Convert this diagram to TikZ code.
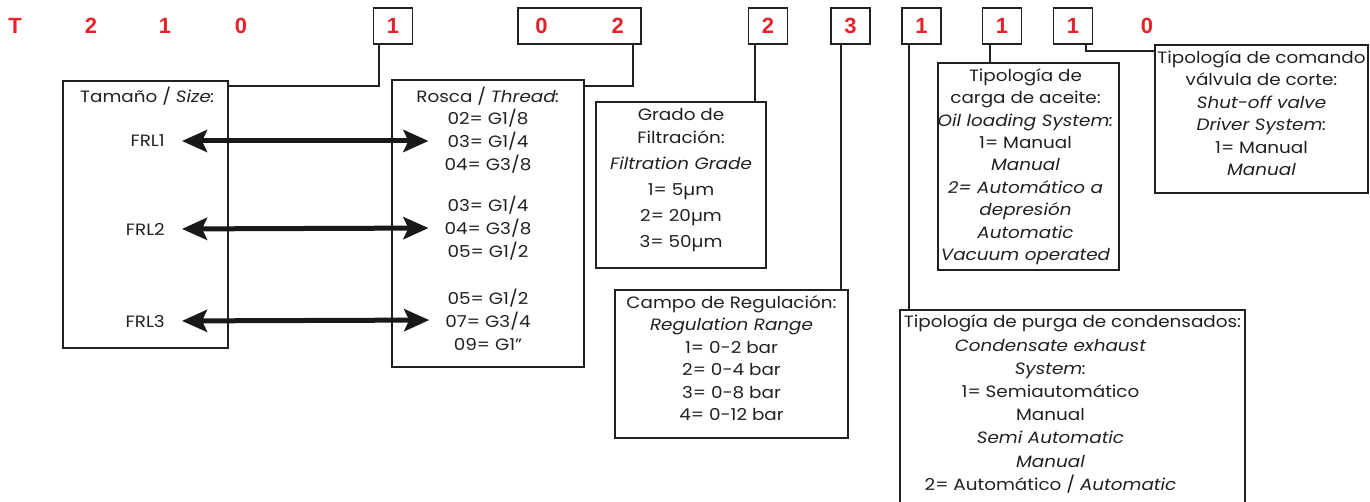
\documentclass[tikz,border=0pt]{standalone}
\usepackage{fontspec}
\setmainfont{Poppins}[FakeStretch=1.12]
\newfontfamily\digitfont{Liberation Sans}
\usepackage{xcolor}
\definecolor{codeRed}  {HTML}{E8202A}
\definecolor{inkGray}  {HTML}{231F20}
\usetikzlibrary{arrows.meta, positioning}
\tikzset{
    digit/.style={font=\digitfont\bfseries\fontsize{22}{22}\selectfont,
                  text=codeRed, inner sep=0pt},
    codebox/.style={digit, draw=inkGray, line width=1.6pt,
                    minimum width=39pt, minimum height=36pt},
    infobox/.style={draw=inkGray, line width=1.6pt},
    infotext/.style={font=\fontsize{16.4}{22.5}\selectfont, text=inkGray,
                     align=center, inner sep=0pt},
    link/.style={-, line width=1.6pt, inkGray},
    sizearrow/.style={<->, >={Stealth[length=25pt, width=22pt, inset=5pt]},
                      line width=5pt, black!90, shorten <=17pt, shorten >=16pt},
}

\begin{document}
\begin{tikzpicture}[x=1pt, y=-1pt]
    \useasboundingbox (0,0) rectangle (1370,502);
    % code
    \node[digit] (cT) at (15,26) {T};
    \node[digit] (cTwo) at (91,26) {2};
    \node[digit] (cOne) at (165,26) {1};
    \node[digit] (cZero) at (241,26) {0};
    \node[codebox] (cSize) at (393,26) {1};
    \node[codebox, minimum width=123pt] (cThread) at (579.5,26) {0\hspace{64pt}2};
    \node[codebox] (cFilter) at (768,26) {2};
    \node[codebox] (cRange) at (850.5,26) {3};
    \node[codebox] (cDrain) at (921.5,26) {1};
    \node[codebox] (cOil) at (1002,26) {1};
    \node[codebox] (cValve) at (1073,26) {1};
    \node[digit] (cEnd) at (1147,26) {0};

    % boxes
    \node[infobox, minimum width=165pt, minimum height=267pt] (bSize) at (145.5,214.5) {};
    \node[infobox, minimum width=192pt, minimum height=287pt] (bThread) at (488,223.5) {};
    \node[infobox, minimum width=170pt, minimum height=166pt] (bFilter) at (681,185) {};
    \node[infobox, minimum width=233pt, minimum height=148pt] (bRange) at (731.5,364) {};
    \node[infobox, minimum width=181pt, minimum height=207pt] (bOil) at (1028.5,166.5) {};
    \node[infobox, minimum width=213pt, minimum height=148pt] (bValve) at (1261.5,119) {};
    \node[infobox, minimum width=345pt, minimum height=250pt] (bDrain) at (1072.5,435) {};

    % texts
    \node[infotext, below=7pt of bSize.north, xshift=2pt] (tSize) {Tamaño / \textit{Size:}};
    \node[infotext, anchor=east] (sFRL1) at (165,141) {FRL1};
    \node[infotext, anchor=east] (sFRL2) at (165,229) {FRL2};
    \node[infotext, anchor=east] (sFRL3) at (165,321) {FRL3};

    \node[infotext, below=8pt of bThread.north] (tThread) {Rosca / \textit{Thread:}};
    \node[infotext, font=\fontsize{16.4}{23}\selectfont] (rG1) at (488,141) {02= G1/8\\03= G1/4\\04= G3/8};
    \node[infotext, font=\fontsize{16.4}{23}\selectfont] (rG2) at (488,228) {03= G1/4\\04= G3/8\\05= G1/2};
    \node[infotext, font=\fontsize{16.4}{23}\selectfont] (rG3) at (488,320) {05= G1/2\\07= G3/4\\09= G1”};

    \node[infotext, font=\fontsize{16.4}{26}\selectfont, below=7pt of bFilter.north] (tFilter)
        {Grado de\\[-3pt]Filtración:\\\textit{Filtration Grade}\\1= 5µm\\2= 20µm\\3= 50µm};
    \node[infotext, below=6pt of bRange.north] (tRange)
        {Campo de Regulación:\\\textit{Regulation Range}\\1= 0-2 bar\\2= 0-4 bar\\3= 0-8 bar\\4= 0-12 bar};
    \node[infotext, font=\fontsize{16.4}{22.4}\selectfont, below=6pt of bOil.north, xshift=-3pt] (tOil)
        {Tipología de\\carga de aceite:\\\textit{Oil loading System:}\\1= Manual\\\textit{Manual}\\
         \textit{2= Automático a}\\\textit{depresión}\\\textit{Automatic}\\\textit{Vacuum operated}};
    \node[infotext, below=6pt of bValve.north] (tValve)
        {Tipología de comando\\válvula de corte:\\\textit{Shut-off valve}\\\textit{Driver System:}\\
         1= Manual\\\textit{Manual}};
    \node[infotext, below=5pt of bDrain.north] (tDrain) {Tipología de purga de condensados:};
    \node[infotext, font=\fontsize{16.4}{23.2}\selectfont, below=7pt of tDrain, xshift=-22pt] (tDrainOpt)
        {\textit{Condensate exhaust}\\\textit{System:}\\1= Semiautomático\\Manual\\\textit{Semi Automatic}\\
         \textit{Manual}\\2= Automático / \textit{Automatic}};

    % connectors
    \draw[link] ([xshift=-14pt]cSize.south) |- ([yshift=-6pt]bSize.north east);
    \draw[link] ([xshift=53.5pt]cThread.south) |- ([yshift=-7pt]bThread.north east);
    \draw[link] ([xshift=-13pt]cFilter.south) -- ([xshift=-13pt]cFilter.south |- bFilter.north);
    \draw[link] ([xshift=-9.5pt]cRange.south) -- ([xshift=-9.5pt]cRange.south |- bRange.north);
    \draw[link] ([xshift=-12.5pt]cDrain.south) -- ([xshift=-12.5pt]cDrain.south |- bDrain.north);
    \draw[link] ([xshift=-12pt]cOil.south) -- ([xshift=-12pt]cOil.south |- bOil.north);
    \draw[link] ([xshift=13pt]cValve.south) |- ([yshift=-7pt]bValve.north west);

    % size to thread
    \draw[sizearrow] (sFRL1.east) -- (rG1.west);
    \draw[sizearrow] (sFRL2.east) -- (rG2.west);
    \draw[sizearrow] (sFRL3.east) -- (rG3.west);
\end{tikzpicture}
\end{document}
